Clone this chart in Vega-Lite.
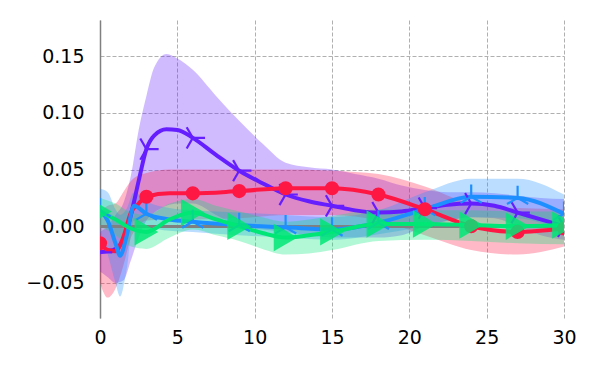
{
  "$schema": "https://vega.github.io/schema/vega-lite/v6.json",
  "width": 464,
  "height": 298,
  "autosize": "none",
  "padding": {"left": 100, "top": 20, "right": 36, "bottom": 57},
  "config": {"view": {"stroke": null}, "font": "DejaVu Sans"},
  "data": {"values": [
    {"s": "s1", "x": 0, "y": -0.023, "lo": -0.04, "hi": -0.005},
    {"s": "s1", "x": 0.5, "y": -0.022, "lo": -0.045, "hi": 0.0},
    {"s": "s1", "x": 1, "y": -0.02, "lo": -0.05, "hi": 0.01},
    {"s": "s1", "x": 1.5, "y": -0.012, "lo": -0.048, "hi": 0.02},
    {"s": "s1", "x": 2, "y": 0.01, "lo": -0.03, "hi": 0.045},
    {"s": "s1", "x": 2.5, "y": 0.04, "lo": -0.01, "hi": 0.085},
    {"s": "s1", "x": 3, "y": 0.068, "lo": 0.005, "hi": 0.115},
    {"s": "s1", "x": 3.5, "y": 0.08, "lo": 0.012, "hi": 0.14},
    {"s": "s1", "x": 4.3, "y": 0.0855, "lo": 0.018, "hi": 0.152},
    {"s": "s1", "x": 5, "y": 0.085, "lo": 0.02, "hi": 0.148},
    {"s": "s1", "x": 6, "y": 0.078, "lo": 0.02, "hi": 0.138},
    {"s": "s1", "x": 7.5, "y": 0.063, "lo": 0.01, "hi": 0.115},
    {"s": "s1", "x": 9, "y": 0.049, "lo": 0.0, "hi": 0.093},
    {"s": "s1", "x": 10.5, "y": 0.038, "lo": -0.003, "hi": 0.073},
    {"s": "s1", "x": 12, "y": 0.028, "lo": -0.005, "hi": 0.056},
    {"s": "s1", "x": 13.5, "y": 0.022, "lo": -0.008, "hi": 0.052},
    {"s": "s1", "x": 15, "y": 0.018, "lo": -0.01, "hi": 0.05},
    {"s": "s1", "x": 16.5, "y": 0.014, "lo": -0.01, "hi": 0.046},
    {"s": "s1", "x": 18, "y": 0.012, "lo": -0.01, "hi": 0.042},
    {"s": "s1", "x": 19.5, "y": 0.013, "lo": -0.008, "hi": 0.036},
    {"s": "s1", "x": 21, "y": 0.016, "lo": 0.0, "hi": 0.032},
    {"s": "s1", "x": 22.5, "y": 0.019, "lo": 0.005, "hi": 0.03},
    {"s": "s1", "x": 24, "y": 0.02, "lo": 0.008, "hi": 0.03},
    {"s": "s1", "x": 25.5, "y": 0.018, "lo": 0.007, "hi": 0.029},
    {"s": "s1", "x": 27, "y": 0.012, "lo": 0.0, "hi": 0.027},
    {"s": "s1", "x": 28.5, "y": 0.006, "lo": -0.008, "hi": 0.025},
    {"s": "s1", "x": 30, "y": 0.0, "lo": -0.012, "hi": 0.024},

    {"s": "s2", "x": 0, "y": -0.015, "lo": -0.05, "hi": 0.012},
    {"s": "s2", "x": 0.5, "y": -0.021, "lo": -0.063, "hi": 0.018},
    {"s": "s2", "x": 1, "y": -0.022, "lo": -0.055, "hi": 0.02},
    {"s": "s2", "x": 1.5, "y": -0.01, "lo": -0.035, "hi": 0.03},
    {"s": "s2", "x": 2, "y": 0.012, "lo": -0.01, "hi": 0.04},
    {"s": "s2", "x": 2.5, "y": 0.02, "lo": 0.0, "hi": 0.045},
    {"s": "s2", "x": 3, "y": 0.026, "lo": 0.005, "hi": 0.047},
    {"s": "s2", "x": 4.5, "y": 0.029, "lo": 0.006, "hi": 0.05},
    {"s": "s2", "x": 6, "y": 0.029, "lo": 0.006, "hi": 0.05},
    {"s": "s2", "x": 9, "y": 0.031, "lo": 0.007, "hi": 0.05},
    {"s": "s2", "x": 12, "y": 0.0335, "lo": 0.01, "hi": 0.05},
    {"s": "s2", "x": 15, "y": 0.0335, "lo": 0.01, "hi": 0.049},
    {"s": "s2", "x": 18, "y": 0.028, "lo": 0.005, "hi": 0.046},
    {"s": "s2", "x": 21, "y": 0.015, "lo": -0.008, "hi": 0.035},
    {"s": "s2", "x": 24, "y": 0.0, "lo": -0.021, "hi": 0.02},
    {"s": "s2", "x": 27, "y": -0.005, "lo": -0.025, "hi": 0.016},
    {"s": "s2", "x": 30, "y": -0.002, "lo": -0.018, "hi": 0.015},

    {"s": "s3", "x": 0, "y": 0.014, "lo": -0.005, "hi": 0.033},
    {"s": "s3", "x": 0.5, "y": 0.005, "lo": -0.025, "hi": 0.03},
    {"s": "s3", "x": 1, "y": -0.015, "lo": -0.05, "hi": 0.015},
    {"s": "s3", "x": 1.3, "y": -0.026, "lo": -0.062, "hi": 0.01},
    {"s": "s3", "x": 1.7, "y": -0.01, "lo": -0.04, "hi": 0.015},
    {"s": "s3", "x": 2.2, "y": 0.018, "lo": 0.005, "hi": 0.03},
    {"s": "s3", "x": 3, "y": 0.011, "lo": 0.0, "hi": 0.022},
    {"s": "s3", "x": 4.5, "y": 0.006, "lo": -0.004, "hi": 0.016},
    {"s": "s3", "x": 6, "y": 0.004, "lo": -0.005, "hi": 0.014},
    {"s": "s3", "x": 9, "y": 0.001, "lo": -0.008, "hi": 0.012},
    {"s": "s3", "x": 12, "y": -0.001, "lo": -0.01, "hi": 0.01},
    {"s": "s3", "x": 15, "y": -0.003, "lo": -0.012, "hi": 0.008},
    {"s": "s3", "x": 18, "y": 0.003, "lo": -0.007, "hi": 0.014},
    {"s": "s3", "x": 21, "y": 0.015, "lo": 0.0, "hi": 0.03},
    {"s": "s3", "x": 24, "y": 0.026, "lo": 0.008, "hi": 0.042},
    {"s": "s3", "x": 27, "y": 0.025, "lo": 0.007, "hi": 0.042},
    {"s": "s3", "x": 30, "y": 0.011, "lo": -0.005, "hi": 0.028},

    {"s": "s4", "x": 0, "y": 0.013, "lo": 0.0, "hi": 0.025},
    {"s": "s4", "x": 1, "y": 0.006, "lo": -0.008, "hi": 0.02},
    {"s": "s4", "x": 2, "y": -0.002, "lo": -0.018, "hi": 0.012},
    {"s": "s4", "x": 3, "y": -0.005, "lo": -0.02, "hi": 0.01},
    {"s": "s4", "x": 4.5, "y": 0.006, "lo": -0.01, "hi": 0.02},
    {"s": "s4", "x": 6, "y": 0.012, "lo": -0.003, "hi": 0.024},
    {"s": "s4", "x": 7.5, "y": 0.006, "lo": -0.008, "hi": 0.018},
    {"s": "s4", "x": 9, "y": 0.0, "lo": -0.013, "hi": 0.013},
    {"s": "s4", "x": 10.5, "y": -0.006, "lo": -0.02, "hi": 0.008},
    {"s": "s4", "x": 12, "y": -0.01, "lo": -0.025, "hi": 0.004},
    {"s": "s4", "x": 13.5, "y": -0.008, "lo": -0.024, "hi": 0.006},
    {"s": "s4", "x": 15, "y": -0.005, "lo": -0.021, "hi": 0.009},
    {"s": "s4", "x": 18, "y": 0.002, "lo": -0.013, "hi": 0.015},
    {"s": "s4", "x": 21, "y": 0.002, "lo": -0.012, "hi": 0.014},
    {"s": "s4", "x": 24, "y": 0.001, "lo": -0.013, "hi": 0.014},
    {"s": "s4", "x": 27, "y": 0.0, "lo": -0.015, "hi": 0.013},
    {"s": "s4", "x": 30, "y": 0.001, "lo": -0.016, "hi": 0.013}
  ]},
  "encoding": {
    "x": {"field": "x", "type": "quantitative",
      "scale": {"domain": [0, 30], "nice": false},
      "axis": {"title": null, "values": [0, 5, 10, 15, 20, 25, 30], "domain": false, "ticks": false, "tickSize": 0,
        "grid": true, "gridColor": "#b0b0b0", "gridDash": [4, 2], "gridWidth": 1, "gridOpacity": 1,
        "labelFontSize": 19, "labelFontWeight": "normal", "labelColor": "#000", "labelPadding": 10, "labelFlush": false}}
  },
  "layer": [
    {
      "mark": {"type": "area", "interpolate": "monotone", "opacity": 0.3, "clip": true},
      "encoding": {
        "y": {"field": "lo", "type": "quantitative",
          "scale": {"domain": [-0.081, 0.182], "nice": false, "zero": false},
          "axis": {"title": null, "values": [-0.05, 0, 0.05, 0.1, 0.15], "format": ".2f",
            "domain": true, "domainColor": "#808080", "domainWidth": 1.5, "ticks": false, "tickSize": 0,
            "grid": true, "gridColor": "#b0b0b0", "gridDash": [4, 2], "gridWidth": 1, "gridOpacity": 1,
            "labelFontSize": 19, "labelFontWeight": "normal", "labelColor": "#000", "labelPadding": 16}},
        "y2": {"field": "hi"},
        "color": {"field": "s", "type": "nominal", "legend": null,
          "scale": {"domain": ["s1", "s2", "s3", "s4"], "range": ["#651fff", "#ff1744", "#1e8fff", "#00e676"]}}
      }
    },
    {
      "mark": {"type": "rule", "color": "#808080", "strokeWidth": 2.5},
      "encoding": {"y": {"datum": 0, "type": "quantitative"}, "x": {"value": 0}, "x2": {"value": 464}}
    },
    {
      "mark": {"type": "line", "interpolate": "monotone", "strokeWidth": 4, "clip": true},
      "encoding": {
        "y": {"field": "y", "type": "quantitative"},
        "color": {"field": "s", "type": "nominal", "legend": null}
      }
    },
    {
      "transform": [{"filter": "(datum.s == 's1' || datum.s == 's3') && datum.x % 3 == 0"}],
      "mark": {"type": "point", "filled": false, "strokeWidth": 2.2, "opacity": 1, "clip": true},
      "encoding": {
        "y": {"field": "y", "type": "quantitative"},
        "color": {"field": "s", "type": "nominal", "legend": null},
        "shape": {"field": "s", "type": "nominal", "legend": null,
          "scale": {"domain": ["s1", "s3"], "range": ["M0,0L1,0M0,0L-0.5,-0.866M0,0L-0.5,0.866", "M0,0L0,-1M0,0L-0.866,0.5M0,0L0.866,0.5"]}},
        "size": {"value": 600}
      }
    },
    {
      "transform": [{"filter": "datum.s == 's2' && datum.x % 3 == 0"}],
      "mark": {"type": "point", "shape": "circle", "filled": true, "opacity": 1, "size": 200, "color": "#ff1744", "clip": true},
      "encoding": {"y": {"field": "y", "type": "quantitative"}}
    },
    {
      "transform": [{"filter": "datum.s == 's4' && datum.x % 3 == 0"}],
      "mark": {"type": "point", "shape": "triangle-right", "filled": true, "opacity": 0.85, "size": 750, "color": "#00e676", "clip": true},
      "encoding": {"y": {"field": "y", "type": "quantitative"}}
    }
  ]
}
